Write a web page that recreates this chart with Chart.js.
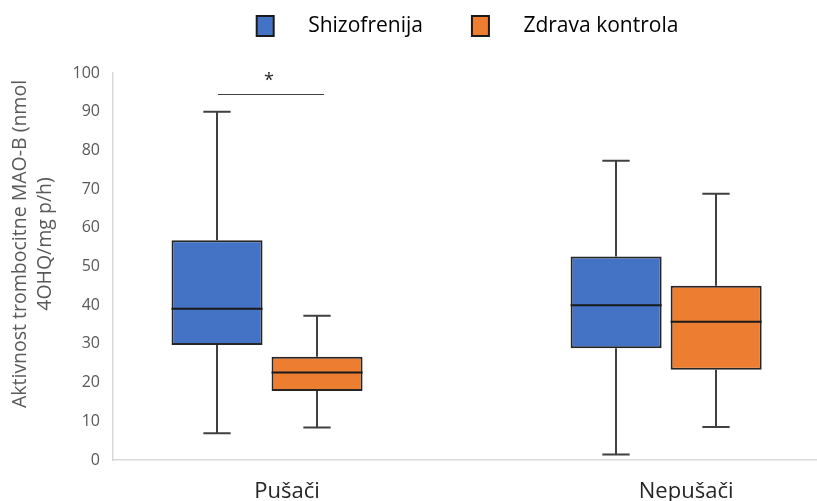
<!DOCTYPE html>
<html>
<head>
<meta charset="utf-8">
<script src="https://cdn.jsdelivr.net/npm/chart.js@4/dist/chart.umd.min.js"></script>
<style>
html,body{margin:0;padding:0;background:#ffffff;}
#wrap{width:817px;height:501px;}
</style>
</head>
<body>
<div id="wrap"><canvas id="c" width="817" height="501"></canvas></div>
<script>
// ---- data ----
const categories = ['Pušači', 'Nepušači'];
const seriesNames = ['Shizofrenija', 'Zdrava kontrola'];

const schizoMin    = [6.9, 1.4];
const schizoQ1     = [29.7, 28.9];
const schizoMedian = [39.1, 40.0];
const schizoQ3     = [56.8, 52.6];
const schizoMax    = [90.0, 77.3];

const controlMin    = [8.4, 8.5];
const controlQ1     = [17.8, 23.3];
const controlMedian = [22.6, 35.7];
const controlQ3     = [26.7, 45.0];
const controlMax    = [37.3, 68.8];

const yTickValues = [0, 10, 20, 30, 40, 50, 60, 70, 80, 90, 100];
const yTitleLines = ['Aktivnost trombocitne MAO-B (nmol', '4OHQ/mg p/h)'];
const significance = [{ category: 0, mark: '*', value: 94.5 }];

// ---- styling ----
const COLORS = ['#4472C4', '#ED7D31'];
const stats = [
  { min: schizoMin, med: schizoMedian, max: schizoMax },
  { min: controlMin, med: controlMedian, max: controlMax }
];
const FONT = "'Open Sans', 'DejaVu Sans', sans-serif";

function legendSwatch(color) {
  const c = document.createElement('canvas');
  c.width = 46; c.height = 22;
  const g = c.getContext('2d');
  g.fillStyle = '#1a1a1a';
  g.fillRect(4, 0, 19, 22);
  g.fillStyle = color;
  g.fillRect(6, 2, 15, 18);
  return c;
}
const swatches = COLORS.map(legendSwatch);

const boxPlugin = {
  id: 'boxWhiskers',
  beforeDatasetsDraw(chart) {
    const ctx = chart.ctx;
    const y = chart.scales.y;
    ctx.save();
    ctx.strokeStyle = '#404040';
    ctx.lineWidth = 2;
    chart.data.datasets.forEach((ds, di) => {
      const meta = chart.getDatasetMeta(di);
      meta.data.forEach((bar, i) => {
        const s = stats[di];
        const x = Math.round(bar.x);
        const cap = bar.width * 0.3 / 2;
        const yMax = y.getPixelForValue(s.max[i]);
        const yMin = y.getPixelForValue(s.min[i]);
        const [q1, q3] = ds.data[i].y;
        ctx.beginPath();
        ctx.moveTo(x, yMax); ctx.lineTo(x, y.getPixelForValue(q3));
        ctx.moveTo(x, y.getPixelForValue(q1)); ctx.lineTo(x, yMin);
        ctx.moveTo(x - cap, yMax); ctx.lineTo(x + cap, yMax);
        ctx.moveTo(x - cap, yMin); ctx.lineTo(x + cap, yMin);
        ctx.stroke();
      });
    });
    ctx.restore();
  },
  afterDatasetsDraw(chart) {
    const ctx = chart.ctx;
    const y = chart.scales.y;
    ctx.save();
    ctx.strokeStyle = '#1a1a1a';
    ctx.lineWidth = 2;
    chart.data.datasets.forEach((ds, di) => {
      const meta = chart.getDatasetMeta(di);
      meta.data.forEach((bar, i) => {
        const ym = y.getPixelForValue(stats[di].med[i]);
        ctx.beginPath();
        ctx.moveTo(bar.x - bar.width / 2, ym);
        ctx.lineTo(bar.x + bar.width / 2, ym);
        ctx.stroke();
      });
    });
    // significance marks
    significance.forEach(sig => {
      const b0 = chart.getDatasetMeta(0).data[sig.category];
      const b1 = chart.getDatasetMeta(1).data[sig.category];
      const x0 = b0.x + 1, x1 = b1.x + 7;
      const yy = Math.round(y.getPixelForValue(sig.value)) + 0.5;
      ctx.strokeStyle = '#404040';
      ctx.lineWidth = 1;
      ctx.beginPath();
      ctx.moveTo(x0, yy); ctx.lineTo(x1, yy);
      ctx.stroke();
      ctx.fillStyle = '#262626';
      ctx.font = '18px ' + FONT;
      ctx.textAlign = 'center';
      ctx.textBaseline = 'middle';
      ctx.fillText(sig.mark, (x0 + x1) / 2 - 2, yy - 14);
    });
    ctx.restore();
  },
  afterDraw(chart) {
    // y axis title (two lines, rotated)
    const ctx = chart.ctx;
    ctx.save();
    ctx.fillStyle = '#595959';
    ctx.font = '19.5px ' + FONT;
    ctx.textAlign = 'center';
    ctx.textBaseline = 'alphabetic';
    const cy = 244;
    const baselines = [26, 51];
    yTitleLines.forEach((line, k) => {
      ctx.save();
      ctx.translate(baselines[k], cy);
      ctx.rotate(-Math.PI / 2);
      ctx.fillText(line, 0, 0);
      ctx.restore();
    });
    ctx.restore();
  }
};

const legendSpacer = {
  id: 'legendSpacer',
  beforeInit(chart) {
    const lg = chart.legend;
    if (!lg) return;
    const orig = lg.fit;
    lg.fit = function () {
      orig.call(this);
      this.height += 26.5;
    };
  }
};

new Chart(document.getElementById('c'), {
  type: 'bar',
  data: {
    datasets: seriesNames.map((name, di) => ({
      label: name,
      data: categories.map((c, i) => ({
        x: i,
        y: di === 0 ? [schizoQ1[i], schizoQ3[i]] : [controlQ1[i], controlQ3[i]]
      })),
      backgroundColor: COLORS[di],
      borderColor: '#262626',
      borderWidth: 2,
      borderSkipped: false,
      categoryPercentage: 0.5013,
      barPercentage: 0.91
    }))
  },
  options: {
    responsive: false,
    animation: false,
    devicePixelRatio: 1,
    layout: { padding: { top: -28.5, left: 0, right: 0, bottom: 0 } },
    plugins: {
      legend: {
        position: 'top',
        fullSize: false,
        labels: {
          usePointStyle: true,
          pointStyleWidth: 46,
          padding: 44,
          color: '#262626',
          font: { family: FONT, size: 21 },
          generateLabels(chart) {
            return chart.data.datasets.map((ds, i) => ({
              text: ds.label,
              fillStyle: ds.backgroundColor,
              strokeStyle: '#1a1a1a',
              lineWidth: 0,
              pointStyle: swatches[i],
              hidden: false,
              datasetIndex: i
            }));
          }
        }
      },
      tooltip: { enabled: false },
      title: { display: false }
    },
    scales: {
      x: {
        type: 'linear',
        offset: false,
        min: -0.386,
        max: 1.378,
        afterBuildTicks(axis) {
          axis.ticks = categories.map((c, i) => ({ value: i }));
        },
        afterFit(axis) { axis.height = 41; },
        grid: { display: false, drawTicks: false, offset: false },
        border: { display: true, color: '#d9d9d9', width: 1.5 },
        ticks: {
          autoSkip: false,
          maxRotation: 0,
          labelOffset: 20,
          padding: 18.5,
          color: '#262626',
          font: { family: FONT, size: 22 },
          callback: (v) => categories[v]
        },
        title: { display: false }
      },
      y: {
        type: 'linear',
        min: 0,
        max: 100,
        afterBuildTicks(axis) {
          axis.ticks = yTickValues.map(v => ({ value: v }));
        },
        afterFit(axis) { axis.width = 113; },
        grid: { display: false, drawTicks: false },
        border: { display: true, color: '#d9d9d9', width: 1.5 },
        ticks: {
          padding: 13,
          color: '#595959',
          font: { family: FONT, size: 16 }
        },
        title: { display: false }
      }
    }
  },
  plugins: [legendSpacer, boxPlugin]
});
</script>
</body>
</html>
